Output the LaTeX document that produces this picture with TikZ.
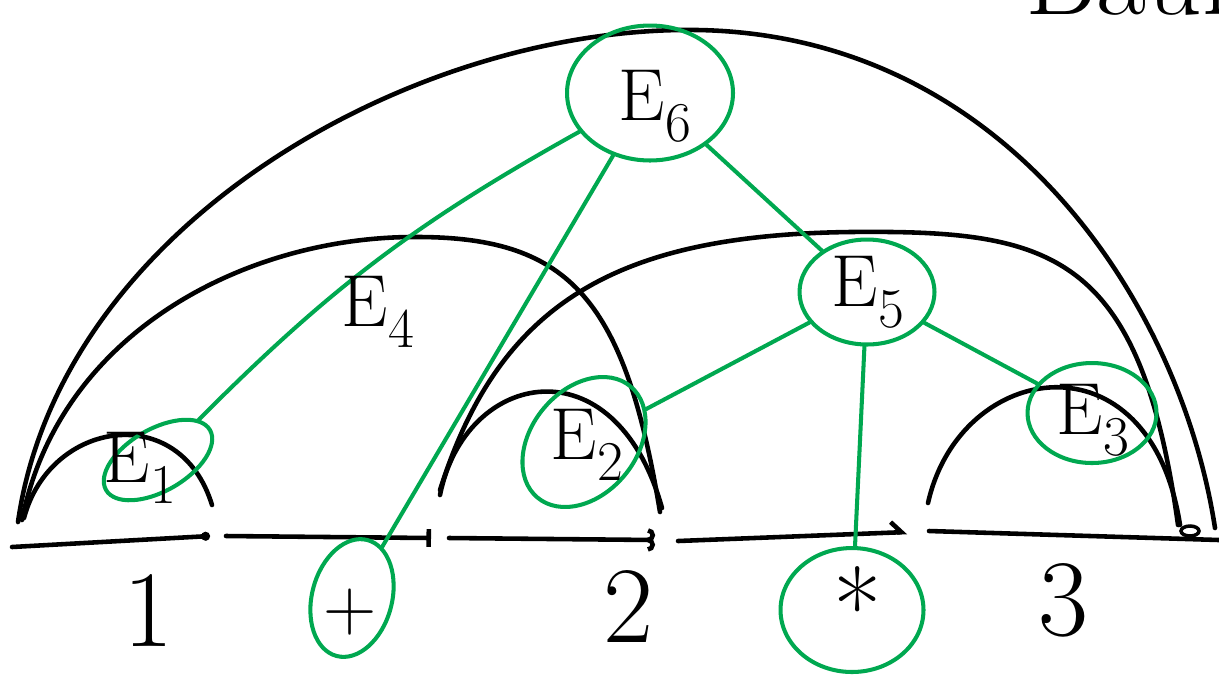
\documentclass[tikz,border=0pt]{standalone}
\usepackage{xcolor}
\definecolor{treeGreen}{RGB}{0,168,80}
\usepackage{tikz}
\usetikzlibrary{arrows.meta,shapes.geometric,positioning,calc}
\tikzstyle{ringnode}=[ellipse, draw=treeGreen, line width=2.3pt, inner sep=0pt]
\tikzstyle{elabel}=[font=\fontsize{42}{48}\selectfont, inner sep=0pt]
\tikzstyle{digitlabel}=[font=\fontsize{62}{70}\selectfont, inner sep=0pt]
\tikzstyle{arcline}=[line width=2.6pt, line cap=round, draw=black]
\tikzstyle{treeedge}=[line width=2.3pt, line cap=round, draw=treeGreen]
\newcommand{\esub}[1]{E\raisebox{-0.28em}{\fontsize{32}{36}\selectfont #1}}

\begin{document}
\begin{tikzpicture}[x=0.02cm, y=-0.02cm]
    \useasboundingbox (0,0) rectangle (1219,674);

    % Grundlinie
    \coordinate (b0) at (12,547);   \coordinate (b1) at (210,536);
    \coordinate (b2) at (226,536);  \coordinate (b3) at (431,538);
    \coordinate (b4) at (449,538);  \coordinate (b5) at (655,540);
    \coordinate (b6) at (678,541);  \coordinate (b7) at (907,532);
    \coordinate (b8) at (929,531);  \coordinate (b9) at (1219,540);
    \draw[arcline, -{Circle[length=5pt]}] (b0) -- (b1);
    \draw[arcline, -{Bar[width=10pt]}] (b2) -- (b3);
    \draw[arcline, -{Hooks[length=4pt]}] (b4) -- (b5);
    \draw[arcline, -{Straight Barb[left, length=6pt]}] (b6) -- (b7);
    \draw[arcline] (b8) -- (b9);
    \draw[line width=2pt] (1190,531) ellipse (9 and 5);

    % Bögen
    \coordinate (a1l) at (24,518);   \coordinate (a1r) at (212,505);
    \coordinate (a4l) at (22,520);   \coordinate (a4r) at (660,512);
    \coordinate (a2l) at (440,495);  \coordinate (a2r) at (662,508);
    \coordinate (a5l) at (440,490);  \coordinate (a5r) at (1178,525);
    \coordinate (a6l) at (18,522);   \coordinate (a6r) at (1215,528);
    \coordinate (a3l) at (928,503);  \coordinate (a3r) at (1180,525);
    \draw[arcline] (a1l) .. controls (50,420) and (180,400) .. (a1r);
    \draw[arcline] (a4l) .. controls (60,330) and (250,235) .. (420,237)
                         .. controls (570,238) and (625,300) .. (a4r);
    \draw[arcline] (a2l) .. controls (465,370) and (615,340) .. (a2r);
    \draw[arcline] (a5l) .. controls (500,300) and (620,235) .. (850,232)
                         .. controls (1050,230) and (1140,250) .. (a5r);
    \draw[arcline] (a6l) .. controls (60,230) and (400,34) .. (680,30)
                         .. controls (1000,25) and (1180,300) .. (a6r);
    \draw[arcline] (a3l) .. controls (960,360) and (1150,330) .. (a3r);

    % Knoten (grüne Ringe)
    \node[ringnode, minimum width=3.32cm, minimum height=2.7cm] (e6) at (650,93) {};
    \node[ringnode, minimum width=2.7cm, minimum height=2.1cm] (e5) at (867,292) {};
    \node[ringnode, minimum width=2.4cm, minimum height=1.24cm, rotate=30] (e1) at (158,460) {};
    \node[ringnode, minimum width=2.9cm, minimum height=2.1cm, rotate=50] (e2) at (584,442) {};
    \node[ringnode, minimum width=2.58cm, minimum height=2.0cm] (e3) at (1092,413) {};
    \node[ringnode, minimum width=1.6cm, minimum height=2.4cm, rotate=-15] (plus) at (352,598) {};
    \node[ringnode, minimum width=2.86cm, minimum height=2.48cm] (star) at (852,610) {};

    % Kanten
    \draw[treeedge] (e6) to[bend right=8] (e1);
    \draw[treeedge] (e6) -- (plus);
    \draw[treeedge] (e6) -- (e5);
    \draw[treeedge] (e5) -- (e2);
    \draw[treeedge] (e5) -- (star);
    \draw[treeedge] (e5) -- (e3);

    % Beschriftungen
    \node[elabel] (t6) at (655,106) {\esub{6}};
    \node[elabel] (t5) at (868,292) {\esub{5}};
    \node[elabel] (t4) at (378,312) {\esub{4}};
    \node[elabel] (t3) at (1093,420) {\esub{3}};
    \node[elabel] (t2) at (587,445) {\esub{2}};
    \node[elabel] (t1) at (140,468) {\esub{1}};
    \node[digitlabel] (d1) at (148,610) {1};
    \node[digitlabel] (d2) at (628,606) {2};
    \node[digitlabel] (d3) at (1063,600) {3};
    \node[elabel] (op1) at (350,612) {+};
    \node[elabel, font=\fontsize{60}{66}\selectfont] (op2) at (858,606) {\raisebox{-0.3em}{*}};
    \node[digitlabel, anchor=south west] (title) at (1025,16) {Baum};
\end{tikzpicture}
\end{document}
